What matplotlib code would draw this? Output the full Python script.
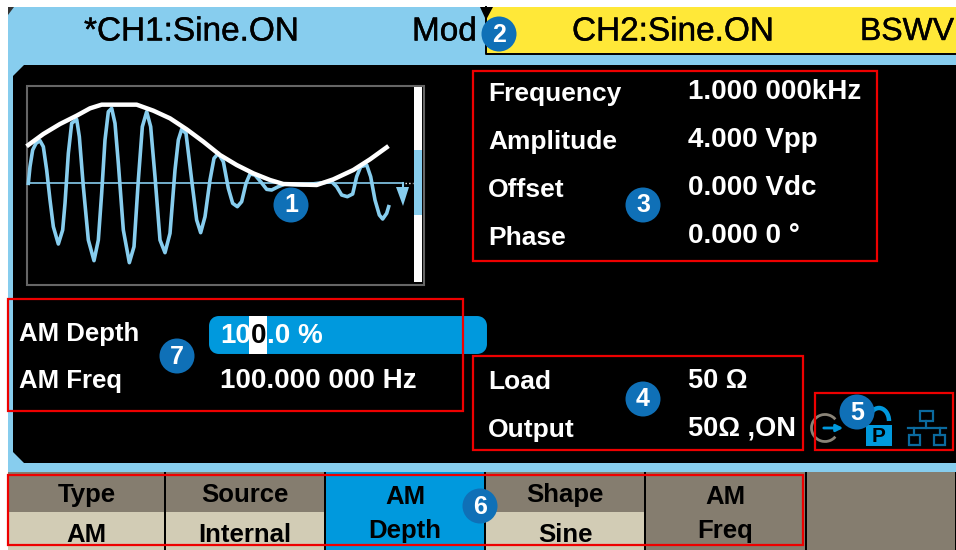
import numpy as np
import matplotlib
matplotlib.use("Agg")
import matplotlib.pyplot as plt
import matplotlib.patheffects as pe
from matplotlib.patches import Rectangle, Circle, Polygon, FancyBboxPatch, Arc

W, H = 956, 550
blue_x = [55,60,68,78,90,100,110,120,130,145,158,165,175,185,200,208,220,235,252,265,275,285,295,305,315,325,340,358,372,385,397,410,422,435,450,465,480,495,505,515,528,545,560,572,585,600,612,625,640,655,668,682,695,708,720,735,752,770,785,805,825,880,965,980,995,1012,1028,1040,1052,1070,1082,1095,1108,1118,1130,1136]
blue_y = [340,290,240,220,212,230,300,390,470,522,480,400,250,160,148,200,350,510,572,510,370,210,125,115,160,280,480,578,530,330,170,125,170,320,510,548,490,300,210,178,190,330,450,488,440,330,265,250,275,355,400,410,395,340,312,315,335,358,360,350,342,345,335,350,375,380,372,320,290,285,320,390,435,447,430,410]
white_x = [55,100,150,200,240,275,380,430,480,530,580,630,680,730,780,820,920,970,1030,1080,1130]
white_y = [225,192,162,137,115,104,104,122,145,178,215,255,285,310,330,342,345,328,300,268,232]

header_labels = ["*CH1:Sine.ON", "Mod", "CH2:Sine.ON", "BSWV"]
param_names = ["Frequency", "Amplitude", "Offset", "Phase"]
param_values = ["1.000 000kHz", "4.000 Vpp", "0.000 Vdc", "0.000 0 °"]
load_names = ["Load", "Output"]
load_values = ["50 Ω", "50Ω ,ON"]
mod_names = ["AM Depth", "AM Freq"]
menu_top = ["Type", "Source", None, "Shape", None]
menu_bottom = ["AM", "Internal", None, "Sine", None]
menu_full = {2: ("AM", "Depth"), 4: ("AM", "Freq")}
menu_edges = [8, 165, 325, 485, 645, 806, 956]
badges = [("1",291,205),("2",499,34),("3",643,205),("4",643,399),("5",857,412),("6",480,506),("7",177,356)]
red_boxes = [(473,71,877,261),(473,356,803,450),(815,393,953,450),(8,475,803,545),(8,299,463,411)]

SKY, YEL, INK, DARK, BEIGE, AZURE, BADGE, RED = "#87CDEE","#FFE838","#000000","#857D6F","#D2CCB5","#0099DD","#0F70B7","#EE0000"
plt.rcParams["font.family"] = ["Liberation Sans", "DejaVu Sans"]
fig = plt.figure(figsize=(W/100, H/100), dpi=100, facecolor="white")
ax = fig.add_axes([0,0,1,1]); ax.set_xlim(0,W); ax.set_ylim(H,0); ax.axis("off")

def rect(x0,y0,x1,y1,fc,ec="none",lw=0,z=1):
    ax.add_patch(Rectangle((x0,y0),x1-x0,y1-y0,fc=fc,ec=ec,lw=lw,zorder=z))

# panels
rect(8,7,W,472,SKY)
rect(486,7,W,54,YEL,z=2)
ax.plot([486,486,W],[7,54,54],color=INK,lw=1.4,zorder=3)
ax.add_patch(Polygon([(480,7),(493,7),(486,20)],fc=INK,zorder=3))
ax.add_patch(Polygon([(8,7),(14,7),(8,15)],fc="#333333",zorder=3))
ax.add_patch(Polygon([(24,65),(W,65),(W,463),(24,463),(13,452),(13,76)],fc=INK,zorder=2))

# menu
rect(8,472,W,550,INK,z=2)
for i in range(6):
    x0,x1 = menu_edges[i]+(1 if i else 0), menu_edges[i+1]-1
    if i == 2:
        rect(x0,472,x1,550,AZURE,z=3)
    elif i >= 4:
        rect(x0,472,x1,550,DARK,z=3)
    else:
        rect(x0,472,x1,512,DARK,z=3); rect(x0,512,x1,550,BEIGE,z=3)
mt = dict(color="black",ha="center",va="center",fontsize=18.5,fontweight="bold",zorder=5)
for i,(a,b) in enumerate(zip(menu_top,menu_bottom)):
    c = (menu_edges[i]+menu_edges[i+1])/2
    if i in menu_full:
        ax.text(c,497,menu_full[i][0],**mt); ax.text(c,531,menu_full[i][1],**mt)
    else:
        ax.text(c,495,a,**mt); ax.text(c,535,b,**mt)

# header
for s,x,size in zip(header_labels,[84,412,572,860],[24,24,24,23]):
    ax.text(x,32,s,color="black",va="center",ha="left",fontsize=size,zorder=5,
            path_effects=[pe.withStroke(linewidth=0.3,foreground="black")])

# waveform window
rect(27,86,424,285,"none",ec="#666666",lw=1.5,z=3)
rect(414,87,422,282,"white",z=3); rect(414,150,422,215,SKY,z=4)
ax.plot([28,403],[183,183],color=SKY,lw=1.2,zorder=4)
ax.plot([405,413],[183,183],color="white",lw=1,ls=":",zorder=4)
ax.plot(np.array(blue_x)/3+10,np.array(blue_y)/3+70,color=SKY,lw=2.6,zorder=5)
ax.plot(np.array(white_x)/3+10,np.array(white_y)/3+70,color="white",lw=3.2,zorder=6)
ax.add_patch(Polygon([(396,187),(409,187),(403,206)],fc=SKY,zorder=5))
ax.plot([403,403],[183,187],color=SKY,lw=1.5,zorder=5)

# screen text
def stxt(x,y,s,size=19,color="white"):
    return ax.text(x,y,s,color=color,va="center",ha="left",fontsize=size,fontweight="bold",zorder=6)
for s,y in zip(param_names,[94,142,190,238]): stxt(488,y,s)
for s,y in zip(param_values,[92,140,188,236]): stxt(688,y,s,size=20)
for s,y in zip(load_names,[382,430]): stxt(488,y,s)
for s,y in zip(load_values,[381,429]): stxt(688,y,s,size=19.5)
for s,y in zip(mod_names,[334,381]): stxt(19,y,s,size=18.5)
stxt(220,381,"100.000 000 Hz",size=20)

# depth field
ax.add_patch(FancyBboxPatch((215,322),266,26,boxstyle="round,pad=0,rounding_size=4",fc=AZURE,ec=AZURE,lw=8.6,zorder=3,joinstyle="round"))
rect(249,316,267,354,"white",z=4)
stxt(220,336,"10",size=20)
stxt(251,336,"0",size=20,color="black")
stxt(267,336,".0 %",size=20)

# status icons
ax.add_patch(Arc((825,428),27,27,theta1=40,theta2=320,ec="#8A8478",lw=2,zorder=5))
ax.annotate("",xy=(846,428),xytext=(821,428),arrowprops=dict(arrowstyle="-|>",color=AZURE,lw=2),zorder=5)
ax.add_patch(Arc((879,421),20,26,theta1=180,theta2=360,ec=AZURE,lw=3.2,zorder=5))
rect(866,425,892,446,AZURE,z=6)
ax.text(879,436,"P",color="black",fontsize=15,fontweight="bold",ha="center",va="center",zorder=7)
net = "#0B6A9E"
rect(920,411,933,421,"none",ec=net,lw=1.6,z=5)
rect(909,435,920,445,"none",ec=net,lw=1.6,z=5)
rect(934,435,945,445,"none",ec=net,lw=1.6,z=5)
ax.plot([926,926],[421,428],color=net,lw=1.6,zorder=5)
ax.plot([908,946],[428,428],color=net,lw=1.6,zorder=5)
ax.plot([914,914],[428,435],color=net,lw=1.6,zorder=5)
ax.plot([940,940],[428,435],color=net,lw=1.6,zorder=5)

# callouts
for x0,y0,x1,y1 in red_boxes:
    rect(x0,y0,x1,y1,"none",ec=RED,lw=1.6,z=8)
for s,x,y in badges:
    ax.add_patch(Circle((x,y),17.5,fc=BADGE,ec="none",zorder=9))
    ax.text(x,y+0.5,s,color="white",fontsize=18,fontweight="bold",ha="center",va="center",zorder=10)

fig.savefig("out.png",dpi=100)
